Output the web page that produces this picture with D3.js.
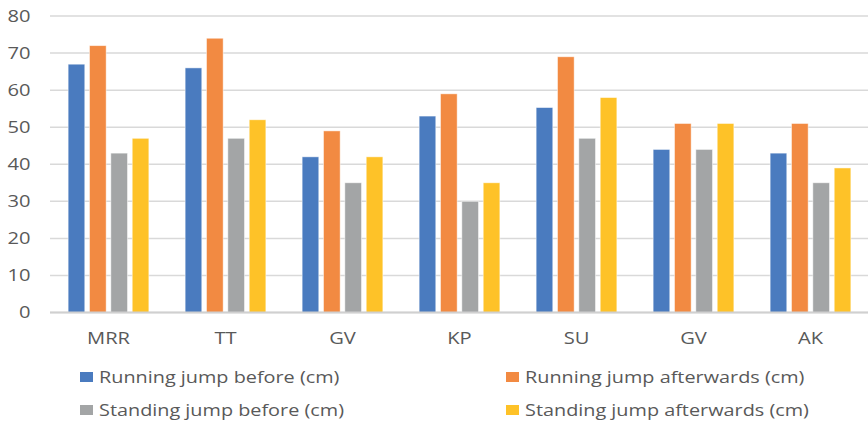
<!DOCTYPE html>
<html>
<head>
<meta charset="utf-8">
<script src="https://cdn.jsdelivr.net/npm/d3@7"></script>
<style>
  html, body { margin: 0; padding: 0; background: #fff; }
  svg { display: block; }
  text { font-family: "Open Sans", "Noto Sans", sans-serif; fill: #595959; }
</style>
</head>
<body>
<svg id="chart" width="868" height="424"></svg>
<script>
// Participants (GV appears twice, so bars are positioned by index)
const categories = ["MRR", "TT", "GV", "KP", "SU", "GV", "AK"];
const seriesNames = [
  "Running jump before (cm)",
  "Running jump afterwards (cm)",
  "Standing jump before (cm)",
  "Standing jump afterwards (cm)"
];
const runningBefore      = [67, 66, 42, 53, 55.3, 44, 43];
const runningAfterwards  = [72, 74, 49, 59, 69, 51, 51];
const standingBefore     = [43, 47, 35, 30, 47, 44, 35];
const standingAfterwards = [47, 52, 42, 35, 58, 51, 39];
const yTicks = [0, 10, 20, 30, 40, 50, 60, 70, 80];
const colors = ["#4a7bbf", "#f28a42", "#a3a5a6", "#fec228"];

const allSeries = [runningBefore, runningAfterwards, standingBefore, standingAfterwards];

const svg = d3.select("#chart");
const width = 868;
const plotLeft = 50, plotTop = 16, plotBottom = 312.5;
// Text is drawn slightly widened horizontally
const textStretch = 1.3;
const legendStretch = 1.28;
const fontSize = 15.5;

const x = d3.scaleBand()
  .domain(categories.map((d, i) => i))
  .range([plotLeft, width + 1])
  .paddingInner(0.31)
  .paddingOuter(0.155);

const x1 = d3.scaleBand()
  .domain(d3.range(allSeries.length))
  .range([0, x.bandwidth()])
  .paddingInner(0.22);

const y = d3.scaleLinear().domain([0, 80]).range([plotBottom, plotTop]);

// Horizontal gridlines
svg.append("g")
  .selectAll("line")
  .data(yTicks)
  .join("line")
  .attr("x1", plotLeft)
  .attr("x2", width)
  .attr("y1", d => y(d))
  .attr("y2", d => y(d))
  .attr("stroke", "#d9d9d9")
  .attr("stroke-width", 1.5);

// Y tick labels
svg.append("g")
  .selectAll("text")
  .data(yTicks)
  .join("text")
  .attr("transform", d => `translate(30.5,${y(d)}) scale(${textStretch},1)`)
  .attr("dy", "0.36em")
  .attr("text-anchor", "end")
  .style("font-size", fontSize + "px")
  .text(d => d);

// Bars
const groups = svg.append("g")
  .selectAll("g")
  .data(categories.map((c, i) => i))
  .join("g")
  .attr("transform", i => `translate(${x(i)},0)`);

groups.selectAll("rect")
  .data(i => allSeries.map((s, k) => ({ k, v: s[i] })))
  .join("rect")
  .attr("x", d => x1(d.k))
  .attr("width", x1.bandwidth())
  .attr("y", d => y(d.v))
  .attr("height", d => y(0) - y(d.v))
  .attr("fill", d => colors[d.k])
  .attr("stroke", "#ffffff")
  .attr("stroke-opacity", 0.6)
  .attr("stroke-width", 0.8);

// Baseline
svg.append("line")
  .attr("x1", plotLeft).attr("x2", width)
  .attr("y1", y(0)).attr("y2", y(0))
  .attr("stroke", "#d0d0d0").attr("stroke-width", 2);

// Category labels
svg.append("g")
  .selectAll("text")
  .data(categories.map((c, i) => ({ c, i })))
  .join("text")
  .attr("transform", d => `translate(${x(d.i) + x.bandwidth() / 2},338.5) scale(${textStretch},1)`)
  .attr("dy", "0.36em")
  .attr("text-anchor", "middle")
  .style("font-size", fontSize + "px")
  .text(d => d.c);

// Legend, two columns by two rows
const legendPos = [
  { x: 80, y: 377 }, { x: 506, y: 377 },
  { x: 80, y: 410 }, { x: 506, y: 410 }
];
const legend = svg.append("g")
  .selectAll("g")
  .data(seriesNames.map((n, k) => ({ n, k })))
  .join("g")
  .attr("transform", d => `translate(${legendPos[d.k].x},${legendPos[d.k].y})`);

legend.append("rect")
  .attr("x", 0).attr("y", -5)
  .attr("width", 13).attr("height", 10)
  .attr("fill", d => colors[d.k]);

legend.append("text")
  .attr("transform", `translate(19,0) scale(${legendStretch},1)`)
  .attr("dy", "0.36em")
  .style("font-size", fontSize + "px")
  .text(d => d.n);
</script>
</body>
</html>
